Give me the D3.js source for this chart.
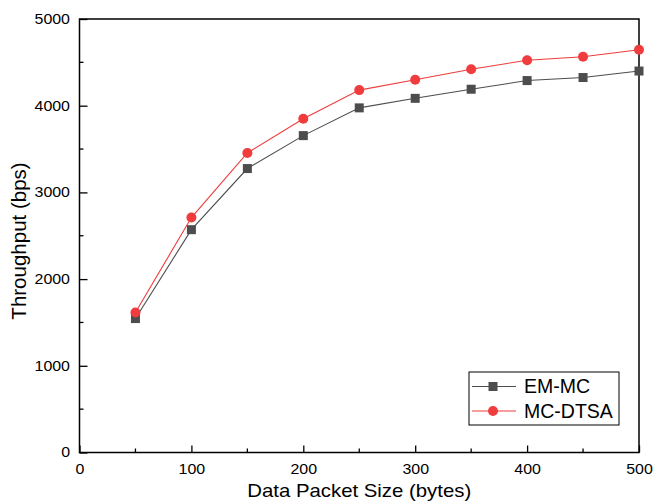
<!DOCTYPE html>
<html>
<head>
<meta charset="utf-8">
<script src="https://cdn.jsdelivr.net/npm/d3@7"></script>
<style>
  body { margin: 0; background: #fff; }
  text { font-family: Arial, "Liberation Sans", sans-serif; fill: #000; font-weight: normal; }
</style>
</head>
<body>
<div id="chart"></div>
<script>
// data
let packetSizes = [50, 100, 150, 200, 250, 300, 350, 400, 450, 500];
let emmc   = [1545, 2570, 3275, 3655, 3975, 4085, 4190, 4290, 4325, 4400];
let mcdtsa = [1615, 2710, 3455, 3850, 4180, 4300, 4420, 4525, 4565, 4645];
let xTicks = [0, 100, 200, 300, 400, 500];
let yTicks = [0, 1000, 2000, 3000, 4000, 5000];

let width = 655, height = 502;
let plotLeft = 79.5, plotRight = 639, plotTop = 19, plotBottom = 452.5;

let svg = d3.select('#chart')
  .append('svg')
    .attr('width', width)
    .attr('height', height)
;

let x = d3.scaleLinear().domain([0, 500]).range([plotLeft, plotRight]);
let y = d3.scaleLinear().domain([0, 5000]).range([plotBottom, plotTop]);

// minor ticks (inside)
svg.selectAll('.xminor').data(d3.range(50, 500, 100)).enter()
  .append('line')
    .attr('x1', x).attr('x2', x)
    .attr('y1', plotBottom).attr('y2', plotBottom - 4)
    .attr('stroke', '#000').attr('stroke-width', 1.3)
;
svg.selectAll('.yminor').data(d3.range(500, 5000, 1000)).enter()
  .append('line')
    .attr('y1', y).attr('y2', y)
    .attr('x1', plotLeft).attr('x2', plotLeft + 4)
    .attr('stroke', '#000').attr('stroke-width', 1.3)
;

// axes, ticks pointing in
let xAxis = svg.append('g')
  .attr('transform', 'translate(0,' + plotBottom + ')')
  .call(d3.axisBottom(x).tickValues(xTicks).tickFormat(d3.format('d'))
    .tickSizeInner(-7).tickSizeOuter(0).tickPadding(12));
let yAxis = svg.append('g')
  .attr('transform', 'translate(' + plotLeft + ',0)')
  .call(d3.axisLeft(y).tickValues(yTicks).tickFormat(d3.format('d'))
    .tickSizeInner(-8).tickSizeOuter(0).tickPadding(9.5));

[xAxis, yAxis].forEach(function(a){
  a.select('.domain').remove();
  a.selectAll('line').attr('stroke', '#000').attr('stroke-width', 1.3);
  a.selectAll('text')
    .attr('font-size', 14)
    .attr('fill', '#000')
    .style('font-family', 'Arial, "Liberation Sans", sans-serif')
    .each(function(){
      // labels in the picture are a bit wider than tall
      let t = d3.select(this);
      let tx = +t.attr('x') || 0;
      t.attr('x', 0).attr('transform', 'translate(' + tx + ',0) scale(1.14,1)');
    });
});

// frame
svg.append('rect')
    .attr('x', plotLeft).attr('y', plotTop)
    .attr('width', plotRight - plotLeft).attr('height', plotBottom - plotTop)
    .attr('fill', 'none')
    .attr('stroke', '#000')
    .attr('stroke-width', 1.5)
;

// axis titles
svg.append('text')
    .text('Data Packet Size (bytes)')
    .attr('transform', 'translate(' + ((plotLeft + plotRight) / 2) + ',496.5) scale(1.15,1)')
    .attr('text-anchor', 'middle')
    .attr('font-size', 17.7)
;
svg.append('text')
    .text('Throughput (bps)')
    .attr('transform', 'translate(26,241) rotate(-90)')
    .attr('text-anchor', 'middle')
    .attr('font-size', 20.5)
;

let line = d3.line()
  .x(function(d, i){ return x(packetSizes[i]); })
  .y(function(d){ return y(d); });

let greyCol = '#4d4d4d', redCol = '#f03c3c';

svg.append('path').datum(emmc)
    .attr('d', line)
    .attr('fill', 'none').attr('stroke', greyCol).attr('stroke-width', 1.1)
;
svg.append('path').datum(mcdtsa)
    .attr('d', line)
    .attr('fill', 'none').attr('stroke', redCol).attr('stroke-width', 1.1)
;

svg.selectAll('.sq').data(emmc).enter()
  .append('rect')
    .attr('class', 'sq')
    .attr('x', function(d, i){ return x(packetSizes[i]) - 4.5; })
    .attr('y', function(d){ return y(d) - 4.5; })
    .attr('width', 9).attr('height', 9)
    .attr('fill', greyCol)
;
svg.selectAll('.dot').data(mcdtsa).enter()
  .append('circle')
    .attr('class', 'dot')
    .attr('cx', function(d, i){ return x(packetSizes[i]); })
    .attr('cy', function(d){ return y(d); })
    .attr('r', 5)
    .attr('fill', redCol)
;

// legend
let legend = svg.append('g').attr('transform', 'translate(469,372)');
legend.append('rect')
    .attr('width', 150).attr('height', 53)
    .attr('fill', '#fff').attr('stroke', '#000').attr('stroke-width', 1)
;
let series = [
  {name: 'EM-MC', color: greyCol, shape: 'square'},
  {name: 'MC-DTSA', color: redCol, shape: 'circle'}
];
let item = legend.selectAll('.item').data(series).enter()
  .append('g')
    .attr('transform', function(d, i){ return 'translate(0,' + (14.5 + i * 24.5) + ')'; })
;
item.append('line')
    .attr('x1', 3).attr('x2', 47)
    .attr('stroke', function(d){ return d.color; })
    .attr('stroke-width', 1.1)
;
item.filter(function(d){ return d.shape == 'square'; }).append('rect')
    .attr('x', 19.5).attr('y', -4.5).attr('width', 9).attr('height', 9)
    .attr('fill', function(d){ return d.color; })
;
item.filter(function(d){ return d.shape == 'circle'; }).append('circle')
    .attr('cx', 24).attr('r', 5)
    .attr('fill', function(d){ return d.color; })
;
item.append('text')
    .text(function(d){ return d.name; })
    .attr('x', 55)
    .attr('dy', '0.35em')
    .attr('font-size', 19.5)
;
</script>
</body>
</html>
